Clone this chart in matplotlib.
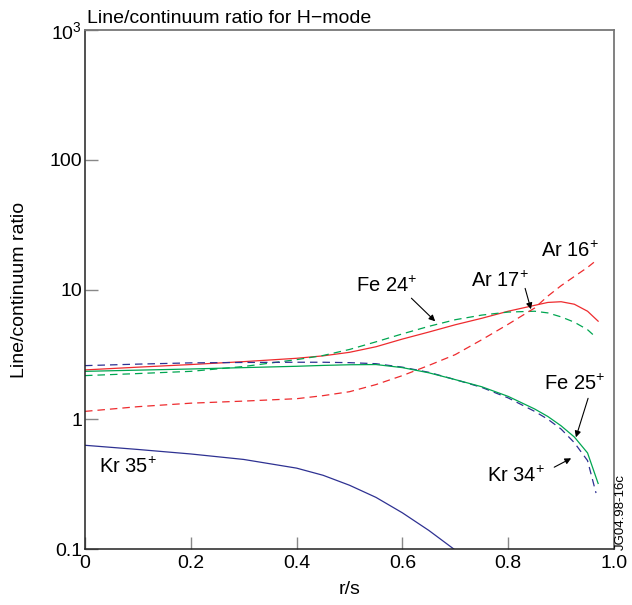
import numpy as np
import matplotlib
matplotlib.use("Agg")
import matplotlib.pyplot as plt

plt.rcParams['font.family'] = ['Liberation Sans', 'DejaVu Sans']
plt.rcParams['mathtext.fontset'] = 'custom'
plt.rcParams['mathtext.rm'] = 'Liberation Sans'
plt.rcParams['mathtext.it'] = 'Liberation Sans:italic'
plt.rcParams['mathtext.bf'] = 'Liberation Sans:bold'

# radial positions (r/s)
x_main = [0, 0.1, 0.2, 0.3, 0.4, 0.45, 0.5, 0.55, 0.6, 0.65, 0.7, 0.75,
          0.8, 0.85, 0.875, 0.9, 0.925, 0.95, 0.97]

# Fe 24+ (red solid)
fe24_solid = [2.40, 2.52, 2.64, 2.78, 2.95, 3.08, 3.28, 3.62, 4.15, 4.7, 5.35,
              6.0, 6.8, 7.55, 7.95, 8.05, 7.7, 6.8, 5.7]

# Ar 17+ (green dashed)
x_ar17 = [0, 0.1, 0.2, 0.3, 0.4, 0.45, 0.5, 0.55, 0.6, 0.65, 0.7, 0.75,
          0.8, 0.85, 0.875, 0.9, 0.925, 0.95, 0.96]
ar17 = [2.17, 2.25, 2.34, 2.55, 2.88, 3.1, 3.45, 3.95, 4.55, 5.2, 5.85, 6.35,
        6.7, 6.8, 6.6, 6.15, 5.6, 4.9, 4.5]

# Ar 16+ (red dashed)
x_ar16 = [0, 0.1, 0.2, 0.3, 0.4, 0.45, 0.5, 0.55, 0.6, 0.65, 0.7, 0.75,
          0.8, 0.85, 0.875, 0.9, 0.925, 0.95, 0.962]
ar16 = [1.15, 1.25, 1.33, 1.38, 1.44, 1.52, 1.63, 1.85, 2.17, 2.6, 3.15, 4.1,
        5.4, 7.2, 8.9, 10.7, 12.6, 14.8, 16.2]

# Kr 34+ (blue dashed)
x_kr34 = [0, 0.1, 0.2, 0.3, 0.4, 0.45, 0.5, 0.55, 0.6, 0.65, 0.7, 0.75,
          0.8, 0.85, 0.875, 0.9, 0.925, 0.95, 0.966]
kr34 = [2.59, 2.66, 2.72, 2.74, 2.75, 2.75, 2.73, 2.68, 2.52, 2.3, 2.02, 1.76,
        1.46, 1.15, 1.0, 0.84, 0.66, 0.48, 0.27]

# Fe 25+ (green solid)
fe25 = [2.34, 2.39, 2.44, 2.50, 2.56, 2.60, 2.63, 2.64, 2.50, 2.28, 2.02, 1.78,
        1.50, 1.2, 1.05, 0.89, 0.73, 0.55, 0.32]

# Kr 35+ (blue solid)
x_kr35 = [0, 0.1, 0.2, 0.3, 0.4, 0.45, 0.5, 0.55, 0.6, 0.65, 0.7]
kr35 = [0.63, 0.585, 0.54, 0.49, 0.42, 0.37, 0.31, 0.25, 0.19, 0.139, 0.098]

x_ticks = [0, 0.2, 0.4, 0.6, 0.8, 1.0]
x_ticklabels = ['0', '0.2', '0.4', '0.6', '0.8', '1.0']
y_ticks = [0.1, 1, 10, 100, 1000]
y_ticklabels = ['0.1', '1', '10', '100', '$10^3$']

RED = '#ee2b2e'
GREEN = '#00a651'
BLUE = '#2e3192'
DASH = (0, (6, 4))

fig = plt.figure(figsize=(6.32, 6.05), dpi=100)
ax = fig.add_axes([85/632, 1-549/605, (614-85)/632, (549-30)/605])

ax.plot(x_main, fe24_solid, color=RED, lw=0.9)
ax.plot(x_ar17, ar17, color=GREEN, lw=0.9, linestyle=DASH)
ax.plot(x_ar16, ar16, color=RED, lw=0.9, linestyle=DASH)
ax.plot(x_kr34, kr34, color=BLUE, lw=0.9, linestyle=DASH)
ax.plot(x_main, fe25, color=GREEN, lw=0.9)
ax.plot(x_kr35, kr35, color=BLUE, lw=0.9)

ax.set_yscale('log')
ax.set_xlim(0, 1.0)
ax.set_ylim(0.1, 1000)
ax.set_xticks(x_ticks)
ax.set_xticklabels(x_ticklabels, fontsize=14)
ax.set_yticks(y_ticks)
ax.set_yticklabels(y_ticklabels, fontsize=14)
ax.minorticks_off()
ax.tick_params(axis='both', direction='in', length=9, width=1, color='#888888')
ax.tick_params(axis='y', pad=2)
ax.tick_params(axis='x', pad=4)

for s in ['left', 'bottom']:
    ax.spines[s].set_color('#222222')
    ax.spines[s].set_linewidth(1.1)
for s in ['top', 'right']:
    ax.spines[s].set_color('#777777')
    ax.spines[s].set_linewidth(1.3)

ax.text(0.004, 1.006, 'Line/continuum ratio for H\u2212mode', transform=ax.transAxes,
        ha='left', va='bottom', fontsize=14)
fig.text(20/632, 1-290/605, 'Line/continuum ratio', rotation=90, ha='center',
         va='center', fontsize=14)
fig.text(350/632, 1-590/605, 'r/s', ha='center', va='center', fontsize=14)
fig.text(621/632, 1-550/605, 'JG04.98-16c', rotation=90, ha='center', va='bottom',
         fontsize=9.5)

fs = 14.5
ax.text(0.513, 9.5, 'Fe 24$^{+}$', fontsize=fs, ha='left', va='baseline')
ax.text(0.730, 10.4, 'Ar 17$^{+}$', fontsize=fs, ha='left', va='baseline')
ax.text(0.862, 17.7, 'Ar 16$^{+}$', fontsize=fs, ha='left', va='baseline')
ax.text(0.868, 1.67, 'Fe 25$^{+}$', fontsize=fs, ha='left', va='baseline')
ax.text(0.760, 0.327, 'Kr 34$^{+}$', fontsize=fs, ha='left', va='baseline')
ax.text(0.026, 0.384, 'Kr 35$^{+}$', fontsize=fs, ha='left', va='baseline')

arrows = [
    ((0.617, 8.57), (0.662, 5.69)),
    ((0.832, 10.2), (0.843, 7.05)),
    ((0.951, 1.45), (0.928, 0.726)),
    ((0.887, 0.427), (0.919, 0.50)),
]
for tail, head in arrows:
    ax.annotate('', xy=head, xytext=tail,
                arrowprops=dict(arrowstyle='-|>', color='black', lw=0.8,
                                mutation_scale=9, shrinkA=0, shrinkB=0))

fig.savefig('out.png', dpi=100)
